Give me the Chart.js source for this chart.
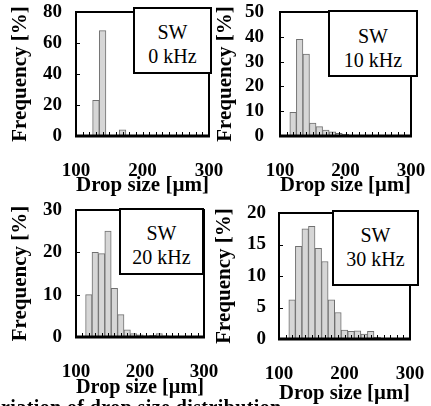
<!DOCTYPE html>
<html>
<head>
<meta charset="utf-8">
<script src="https://cdn.jsdelivr.net/npm/chart.js@4"></script>
<style>
  body { margin: 0; background: #fff; }
  #wrap { position: relative; width: 431px; height: 406px; overflow: hidden; }
  canvas { position: absolute; left: 0; top: 0; }
  .tag {
    position: absolute; box-sizing: border-box; background: #fff;
    border: 2px solid #000; text-align: center;
    font: 20px "Liberation Serif", serif; line-height: 24px; color: #000;
    z-index: 5;
  }
  .caption {
    position: absolute; left: 1px; top: 396px; white-space: nowrap;
    font: bold 20px "Liberation Serif", serif; line-height: 22px; color: #000;
    letter-spacing: 0.4px;
  }
</style>
</head>
<body>
<div id="wrap">
  <canvas id="c0" width="431" height="406"></canvas>
  <canvas id="c1" width="431" height="406"></canvas>
  <canvas id="c2" width="431" height="406"></canvas>
  <canvas id="c3" width="431" height="406"></canvas>
  <div class="tag" style="left:133px;top:7px;width:79px;height:67px;padding-top:11px">SW<br>0 kHz</div>
  <div class="tag" style="left:328px;top:10px;width:90px;height:67px;padding-top:12px">SW<br>10 kHz</div>
  <div class="tag" style="left:119px;top:208px;width:85px;height:67px;padding-top:11px">SW<br>20 kHz</div>
  <div class="tag" style="left:332px;top:210px;width:87px;height:76px;padding-top:11px">SW<br>30 kHz</div>
  <div class="caption">riation of drop size distribution</div>
</div>
<script>
// drop size bins (centre, um) and frequency [%] per ultrasonic frequency
const binCenters = [120, 130, 140, 150, 160, 170, 180, 190, 200, 210, 220, 230, 240, 250];
const freq0kHz  = [0, 23, 68, 0.3, 0.3, 4, 0.5, 0, 0, 0, 0, 0, 0, 0];
const freq10kHz = [9.5, 39, 33, 5.2, 3.8, 2.4, 1.7, 1.1, 0.7, 0.3, 0, 0, 0, 0];
const freq20kHz = [10, 20, 19.7, 25, 11.5, 5.3, 1.7, 0.8, 0.5, 0.3, 0.4, 0.8, 0.3, 0];
const freq30kHz = [6.2, 14.7, 17.5, 17.9, 14.4, 12.3, 6.2, 4.2, 1.4, 1.2, 1.3, 0.8, 1.2, 0.3];

const yMax  = [80, 50, 30, 20];
const yStep = [20, 10, 10, 5];
const xMin = 100, xMax = 300, xStep = 100, binWidth = 10;

const series = [freq0kHz, freq10kHz, freq20kHz, freq30kHz];

// where each panel sits on the page
const panels = [
  { left: 8,   box: [76, 12, 209, 136],   bottom: 198, yPad: 14 },
  { left: 213, box: [280, 12, 411, 136],  bottom: 198, yPad: 16 },
  { left: 8,   box: [76, 210, 204, 337],  bottom: 400, yPad: 14 },
  { left: 212, box: [279, 213, 410, 339], bottom: 406, yPad: 13 }
];

const W = 431, H = 406;
const serif = '"Liberation Serif", "Times New Roman", serif';

const frame = {
  id: 'frame',
  afterDatasetsDraw(chart) {
    const { ctx, chartArea: a, scales: { x, y } } = chart;
    ctx.save();
    ctx.strokeStyle = '#000';
    ctx.lineWidth = 1;
    for (let v = xMin + binWidth; v < xMax; v += binWidth) {
      const px = Math.round(x.getPixelForValue(v)) + 0.5;
      ctx.beginPath();
      ctx.moveTo(px, a.bottom);
      ctx.lineTo(px, a.bottom - 4);
      ctx.stroke();
    }
    y.ticks.forEach(t => {
      const py = Math.round(y.getPixelForValue(t.value)) + 0.5;
      ctx.beginPath();
      ctx.moveTo(a.left, py);
      ctx.lineTo(a.left + 4, py);
      ctx.stroke();
    });
    ctx.lineWidth = 2;
    ctx.strokeRect(a.left, a.top, a.right - a.left, a.bottom - a.top);
    ctx.lineWidth = 3;
    ctx.beginPath();
    ctx.moveTo(a.left - 1, a.bottom);
    ctx.lineTo(a.right + 1, a.bottom);
    ctx.stroke();
    ctx.restore();
  }
};

panels.forEach((p, i) => {
  const [bl, bt, br, bb] = p.box;
  new Chart(document.getElementById('c' + i), {
    type: 'bar',
    data: {
      datasets: [{
        data: binCenters.map((c, k) => ({ x: c, y: series[i][k] })),
        backgroundColor: '#d6d6d6',
        borderColor: '#707070',
        borderWidth: 1,
        barPercentage: 1,
        categoryPercentage: 1
      }]
    },
    options: {
      responsive: false,
      devicePixelRatio: 1,
      animation: false,
      layout: { padding: { left: p.left, top: bt, right: W - br, bottom: H - p.bottom } },
      plugins: { legend: { display: false }, tooltip: { enabled: false } },
      scales: {
        x: {
          type: 'linear',
          min: xMin,
          max: xMax,
          offset: false,
          grid: { display: false, drawTicks: false, offset: false },
          border: { display: false },
          ticks: {
            stepSize: xStep,
            padding: 24,
            maxRotation: 0,
            autoSkip: false,
            color: '#000',
            font: { family: serif, size: 19, weight: 'bold' }
          },
          title: {
            display: true,
            text: 'Drop size [µm]',
            color: '#000',
            padding: 0,
            font: { family: serif, size: 21, weight: 'bold' }
          },
          afterFit(s) {
            s.height = p.bottom - bb;
            s.paddingLeft = 0;
            s.paddingRight = 0;
          }
        },
        y: {
          min: 0,
          max: yMax[i],
          grid: { display: false, drawTicks: false },
          border: { display: false },
          ticks: {
            stepSize: yStep[i],
            padding: p.yPad,
            autoSkip: false,
            color: '#000',
            font: { family: serif, size: 19, weight: 'bold' }
          },
          title: {
            display: true,
            text: 'Frequency [%]',
            color: '#000',
            padding: 0,
            font: { family: serif, size: 21, weight: 'bold' }
          },
          afterFit(s) {
            s.width = bl - p.left;
            s.paddingTop = 0;
            s.paddingBottom = 0;
          }
        }
      }
    },
    plugins: [frame]
  });
});
</script>
</body>
</html>
